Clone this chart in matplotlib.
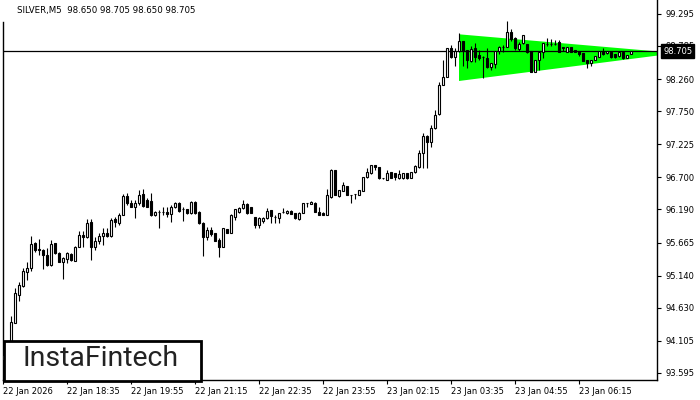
import matplotlib
matplotlib.use("Agg")
import matplotlib.pyplot as plt
from matplotlib.patches import Rectangle, Polygon
import numpy as np

# ---------------- data (SILVER, M5) ----------------
opens = [93.800, 93.880, 94.000, 94.392, 94.832, 94.975, 95.202, 95.261, 95.653, 95.557,
         95.546, 95.467, 95.308, 95.653, 95.503, 95.361, 95.403, 95.483, 95.377, 95.598,
         95.785, 95.748, 95.995, 95.598, 95.689, 95.769, 95.821, 95.769, 96.033, 95.970,
         96.097, 96.404, 96.297, 96.233, 96.288, 96.435, 96.340, 96.329, 96.102, 96.154,
         96.150, 96.149, 96.118, 96.233, 96.297, 96.192, 96.192, 96.129, 96.313, 96.154,
         95.979, 95.757, 95.864, 95.811, 95.705, 95.598, 95.875, 95.821, 96.075, 96.154,
         96.208, 96.276, 96.224, 96.065, 95.943, 96.011, 96.049, 96.181, 96.075, 96.059,
         96.152, 96.129, 96.170, 96.129, 96.033, 96.138, 96.288, 96.276, 96.297, 96.154,
         96.138, 96.102, 96.383, 96.816, 96.404, 96.488, 96.562, 96.419, 96.430, 96.419,
         96.488, 96.700, 96.763, 96.895, 96.859, 96.684, 96.657, 96.779, 96.763, 96.684,
         96.684, 96.763, 96.694, 96.779, 96.868, 97.081, 97.361, 97.256, 97.478, 97.700,
         98.165, 98.297, 98.748, 98.615, 98.705, 98.864, 98.721, 98.546, 98.748, 98.641,
         98.615, 98.589, 98.456, 98.494, 98.705, 98.764, 98.773, 99.002, 98.916, 98.732,
         98.827, 98.811, 98.705, 98.376, 98.562, 98.694, 98.811, 98.816, 98.821, 98.843,
         98.764, 98.694, 98.764, 98.721, 98.705, 98.668, 98.562, 98.519, 98.562, 98.615,
         98.705, 98.668, 98.694, 98.653, 98.630, 98.694, 98.599, 98.650]
highs = [93.920, 94.050, 94.499, 94.943, 95.043, 95.261, 95.361, 95.769, 95.678, 95.721,
         95.562, 95.578, 95.705, 95.662, 95.519, 95.435, 95.519, 95.499, 95.610, 95.853,
         95.853, 96.033, 96.033, 95.757, 95.811, 95.891, 95.891, 96.049, 96.075, 96.129,
         96.435, 96.446, 96.340, 96.340, 96.499, 96.510, 96.367, 96.446, 96.170, 96.181,
         96.233, 96.233, 96.260, 96.313, 96.313, 96.233, 96.197, 96.324, 96.324, 96.165,
         95.991, 95.916, 95.916, 95.821, 95.737, 95.900, 95.880, 96.118, 96.197, 96.224,
         96.340, 96.288, 96.233, 96.075, 96.075, 96.075, 96.208, 96.186, 96.102, 96.138,
         96.208, 96.176, 96.176, 96.133, 96.145, 96.292, 96.297, 96.319, 96.303, 96.233,
         96.145, 96.510, 96.837, 96.816, 96.504, 96.630, 96.567, 96.424, 96.440, 96.504,
         96.705, 96.843, 96.900, 96.900, 96.864, 96.689, 96.816, 96.784, 96.768, 96.816,
         96.768, 96.768, 96.784, 96.895, 97.134, 97.399, 97.367, 97.530, 97.769, 98.218,
         98.562, 98.757, 98.800, 98.757, 98.986, 98.869, 98.726, 98.789, 98.827, 98.721,
         98.626, 98.748, 98.514, 98.710, 98.780, 98.800, 99.181, 99.054, 98.922, 98.853,
         98.964, 98.821, 98.710, 98.567, 98.700, 98.832, 98.907, 98.895, 98.880, 98.880,
         98.769, 98.769, 98.769, 98.726, 98.710, 98.673, 98.567, 98.567, 98.630, 98.710,
         98.748, 98.710, 98.700, 98.657, 98.700, 98.700, 98.646, 98.705]
lows = [93.750, 93.850, 93.970, 94.387, 94.742, 94.959, 95.070, 95.218, 95.519, 95.467,
        95.245, 95.292, 95.292, 95.483, 95.356, 95.081, 95.345, 95.372, 95.372, 95.594,
        95.598, 95.737, 95.388, 95.546, 95.642, 95.626, 95.757, 95.757, 95.916, 95.943,
        96.097, 96.260, 96.224, 96.049, 96.260, 96.233, 96.224, 96.086, 96.086, 95.891,
        96.102, 96.075, 95.995, 96.208, 96.154, 96.011, 96.118, 96.118, 96.118, 95.959,
        95.451, 95.705, 95.769, 95.684, 95.431, 95.589, 95.811, 95.811, 96.022, 96.138,
        96.197, 96.118, 96.129, 95.891, 95.891, 95.979, 96.038, 95.970, 95.979, 95.979,
        96.129, 96.118, 96.113, 96.043, 96.022, 96.129, 96.233, 96.271, 96.149, 96.097,
        96.097, 96.097, 96.377, 96.414, 96.383, 96.483, 96.414, 96.297, 96.351, 96.414,
        96.483, 96.694, 96.757, 96.816, 96.678, 96.678, 96.653, 96.689, 96.657, 96.678,
        96.678, 96.678, 96.689, 96.773, 96.853, 96.853, 96.853, 97.186, 97.472, 97.694,
        98.161, 98.292, 98.589, 98.472, 98.694, 98.472, 98.440, 98.535, 98.535, 98.562,
        98.281, 98.430, 98.403, 98.430, 98.653, 98.684, 98.768, 98.864, 98.721, 98.705,
        98.821, 98.668, 98.372, 98.372, 98.403, 98.589, 98.789, 98.789, 98.800, 98.689,
        98.705, 98.689, 98.689, 98.689, 98.630, 98.541, 98.440, 98.472, 98.557, 98.610,
        98.646, 98.662, 98.599, 98.589, 98.615, 98.578, 98.594, 98.650]
closes = [93.880, 94.000, 94.408, 94.863, 94.991, 95.218, 95.261, 95.642, 95.546, 95.550,
          95.467, 95.308, 95.637, 95.494, 95.361, 95.415, 95.503, 95.388, 95.598, 95.785,
          95.748, 95.979, 95.598, 95.689, 95.769, 95.821, 95.769, 96.022, 95.995, 96.097,
          96.404, 96.288, 96.233, 96.288, 96.419, 96.245, 96.233, 96.102, 96.154, 96.150,
          96.149, 96.118, 96.224, 96.297, 96.170, 96.190, 96.129, 96.313, 96.129, 95.970,
          95.757, 95.864, 95.800, 95.694, 95.589, 95.891, 95.821, 96.102, 96.192, 96.208,
          96.276, 96.129, 96.138, 95.943, 96.049, 96.059, 96.170, 96.086, 96.077, 96.129,
          96.154, 96.170, 96.118, 96.049, 96.138, 96.288, 96.290, 96.313, 96.154, 96.102,
          96.102, 96.419, 96.816, 96.419, 96.499, 96.578, 96.419, 96.417, 96.432, 96.499,
          96.700, 96.789, 96.895, 96.859, 96.684, 96.686, 96.763, 96.694, 96.700, 96.748,
          96.763, 96.684, 96.779, 96.880, 97.081, 97.361, 97.256, 97.478, 97.689, 98.165,
          98.297, 98.748, 98.615, 98.705, 98.864, 98.705, 98.562, 98.737, 98.615, 98.589,
          98.613, 98.456, 98.510, 98.705, 98.773, 98.762, 99.002, 98.895, 98.748, 98.811,
          98.959, 98.684, 98.376, 98.562, 98.694, 98.827, 98.813, 98.818, 98.823, 98.694,
          98.760, 98.764, 98.694, 98.694, 98.653, 98.546, 98.519, 98.562, 98.626, 98.705,
          98.653, 98.705, 98.615, 98.615, 98.694, 98.599, 98.641, 98.705]

time_labels = ["22 Jan 2026", "22 Jan 18:35", "22 Jan 19:55", "22 Jan 21:15",
               "22 Jan 22:35", "22 Jan 23:55", "23 Jan 02:15", "23 Jan 03:35",
               "23 Jan 04:55", "23 Jan 06:15"]
label_every = 16  # bars between time labels

price_ticks = [99.295, 98.785, 98.260, 97.750, 97.225, 96.700,
               96.190, 95.665, 95.140, 94.630, 94.105, 93.595]
price_tick_labels = ["99.295", "98.785", "98.260", "97.750", "97.225", "96.700",
                     "96.190", "95.665", "95.140", "94.630", "94.105", "93.595"]

# symmetrical triangle pattern (bar index, upper, lower)
tri_bars = [114, 166]
tri_upper = [98.970, 98.685]
tri_lower = [98.229, 98.652]

symbol_title = "SILVER,M5  98.650 98.705 98.650 98.705"
last_price = 98.705

# ---------------- figure ----------------
W, H = 700, 400
fig = plt.figure(figsize=(W / 100, H / 100), dpi=100)
fig.patch.set_facecolor("white")
ax = fig.add_axes([2.5 / W, 20 / H, 654.5 / W, 380 / H])
ax.set_facecolor("white")

o = np.array(opens); h = np.array(highs); l = np.array(lows); c = np.array(closes)
idx = np.arange(len(o))

# pattern
poly = Polygon([(tri_bars[0], tri_upper[0]), (tri_bars[1], tri_upper[1]),
                (tri_bars[1], tri_lower[1]), (tri_bars[0], tri_lower[0])],
               closed=True, facecolor="#00ff00", edgecolor="none", zorder=1)
ax.add_patch(poly)

# bid line
ax.axhline(last_price, color="black", lw=0.9, zorder=2)

# candles
up = c >= o
ax.vlines(idx, l, h, color="black", lw=0.8, zorder=3)
bottoms = np.minimum(o, c)
heights = np.maximum(np.abs(c - o), 0.003)
ax.bar(idx, heights, bottom=bottoms, width=0.5,
       color=np.where(up, "white", "black"), edgecolor="black",
       linewidth=0.8, zorder=4)

ax.set_xlim(-0.125, 163.5)
ax.set_ylim(93.483, 99.5145)

# spines
ax.spines["top"].set_visible(False)
for s in ("left", "right", "bottom"):
    ax.spines[s].set_linewidth(1.0)
    ax.spines[s].set_color("black")
ax.spines["left"].set_bounds(93.483, 99.165)

# axes ticks
ax.yaxis.tick_right()
ax.set_yticks(price_ticks)
ax.set_yticklabels(price_tick_labels)
ax.tick_params(axis="y", direction="out", length=3, width=0.8, pad=3,
               labelsize=6, colors="black")
xt = [i * label_every for i in range(len(time_labels))]
ax.set_xticks(xt)
ax.set_xticklabels(time_labels)
for lbl in ax.get_xticklabels():
    lbl.set_ha("left")
ax.tick_params(axis="x", direction="out", length=3, width=0.8, pad=2,
               labelsize=6, colors="black")

# current price box
ax.annotate(f"{last_price:.3f}", xy=(1, last_price),
            xycoords=("axes fraction", "data"), xytext=(6, 0),
            textcoords="offset pixels", ha="left", va="center",
            fontsize=6, color="white",
            bbox=dict(boxstyle="square,pad=0.25", fc="black", ec="black"),
            annotation_clip=False, zorder=10)

# title
fig.text(17 / W, 1 - 10 / H, symbol_title, fontsize=6.2, ha="left",
         va="center", color="black")

# logo
fig.add_artist(Rectangle((3.5 / W, 19.5 / H), 197.5 / W, 40 / H,
                         transform=fig.transFigure, facecolor="white",
                         edgecolor="black", lw=2, zorder=20))
fig.text(101 / W, 1 - 359 / H, "InstaFintech", fontsize=20.5,
         family="Roboto", fontweight="normal", color="#222222",
         ha="center", va="center", zorder=21)

fig.savefig("out.png", dpi=100)
